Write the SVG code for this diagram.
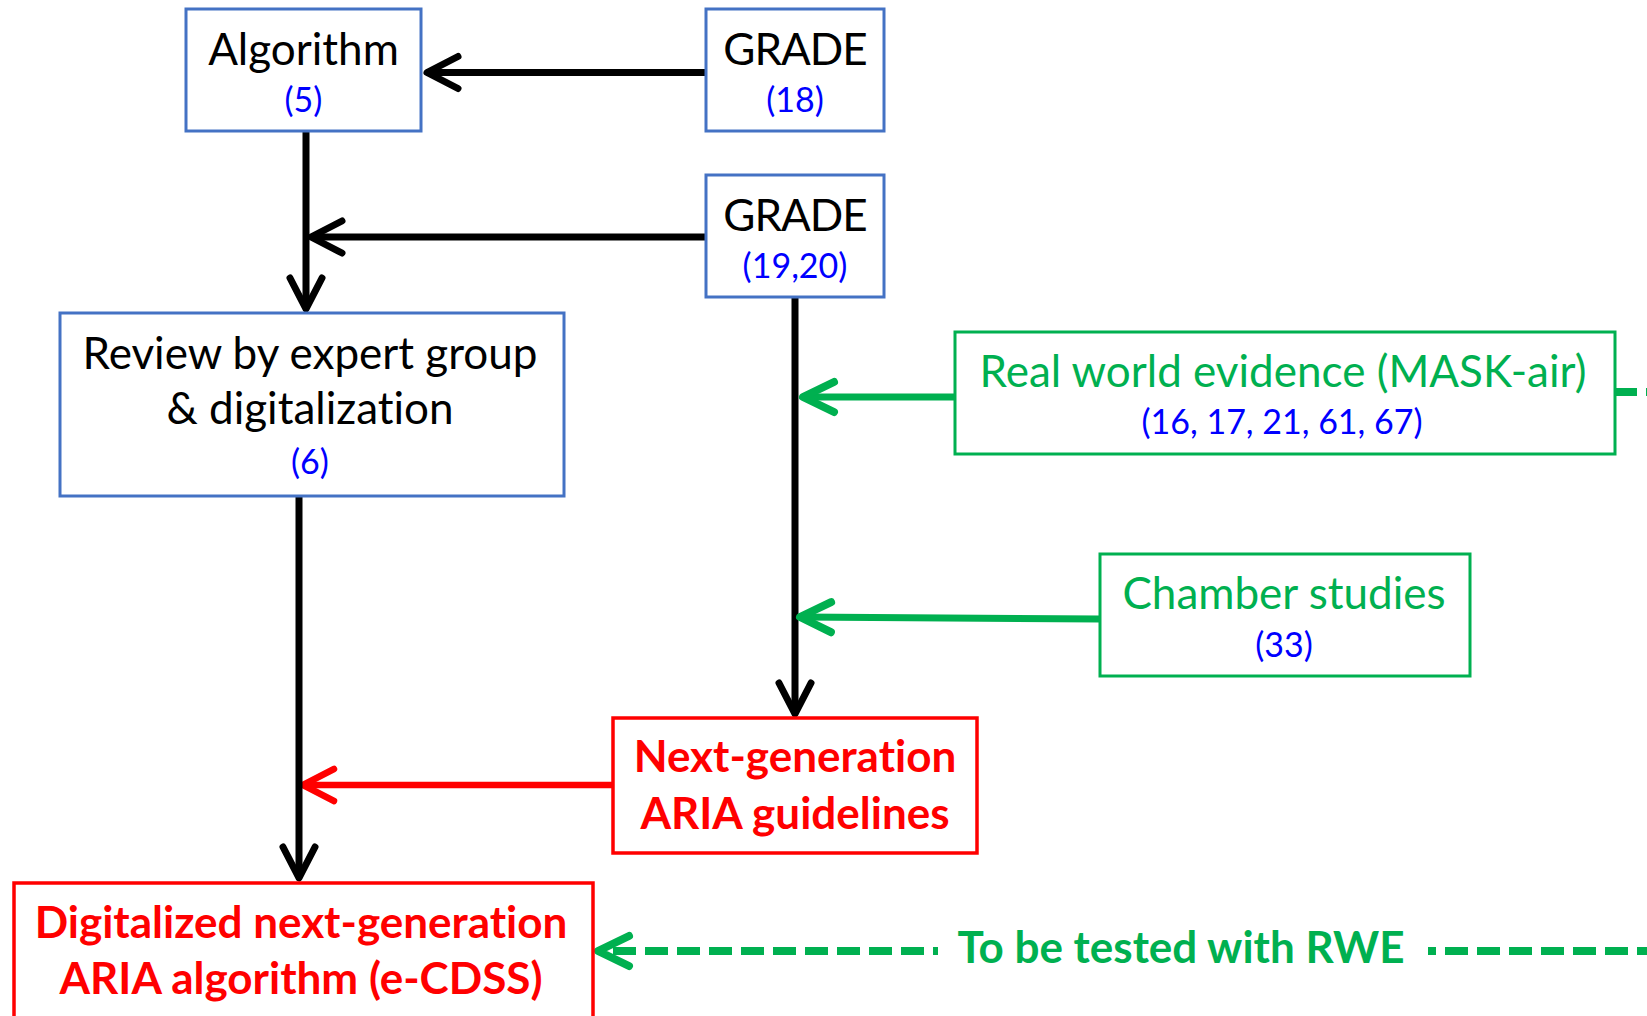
<svg xmlns="http://www.w3.org/2000/svg" width="1647" height="1016" viewBox="0 0 1647 1016">
<style>
.bb{fill:#fff;stroke:#4472C4;stroke-width:3}
.gb{fill:#fff;stroke:#00B050;stroke-width:3}
.rb{fill:#fff;stroke:#FF0000;stroke-width:3.5}
text{font-family:Lato,"Open Sans","Liberation Sans",sans-serif;text-anchor:middle;font-variant-ligatures:none;font-feature-settings:"liga" 0,"dlig" 0}
.t{font-size:44px;fill:#000}
.gr{letter-spacing:-1px}
.g{font-size:44px;fill:#00B050}
.n{font-size:34px;fill:#0000FF}
.r{font-size:44px;font-weight:bold;fill:#FF0000}
.gt{font-size:44px;font-weight:bold;fill:#00B050}
.k{stroke:#000;stroke-width:7;fill:none}
.kr{stroke:#FF0000;stroke-width:6.5;fill:none}
.kg{stroke:#00B050;stroke-width:7;fill:none}
.dg{stroke:#00B050;stroke-width:8;fill:none;stroke-dasharray:23 9}
</style>
<defs>
<marker id="ak" markerUnits="userSpaceOnUse" markerWidth="1" markerHeight="1" refX="0" refY="0" orient="auto" style="overflow:visible"><path d="M-31,-16 L0,0 L-31,16" fill="none" stroke="#000" stroke-width="7" stroke-linecap="round" stroke-linejoin="round"/></marker>
<marker id="ar" markerUnits="userSpaceOnUse" markerWidth="1" markerHeight="1" refX="0" refY="0" orient="auto" style="overflow:visible"><path d="M-31,-16 L0,0 L-31,16" fill="none" stroke="#FF0000" stroke-width="6.5" stroke-linecap="round" stroke-linejoin="round"/></marker>
<marker id="ag" markerUnits="userSpaceOnUse" markerWidth="1" markerHeight="1" refX="0" refY="0" orient="auto" style="overflow:visible"><path d="M-31,-15 L0,0 L-31,15" fill="none" stroke="#00B050" stroke-width="8" stroke-linecap="round" stroke-linejoin="round"/></marker>
</defs>
<g id="connectors">
<line class="k" x1="706" y1="72.5" x2="427" y2="72.5" marker-end="url(#ak)"/>
<line class="k" x1="306" y1="131" x2="306" y2="309" marker-end="url(#ak)"/>
<line class="k" x1="706" y1="237" x2="311" y2="237" marker-end="url(#ak)"/>
<line class="k" x1="795" y1="297" x2="795" y2="714" marker-end="url(#ak)"/>
<line class="kg" x1="955" y1="397" x2="803" y2="397" marker-end="url(#ag)"/>
<line class="kg" x1="1100" y1="619" x2="800" y2="617" marker-end="url(#ag)"/>
<line class="kr" x1="613" y1="785" x2="303" y2="785" marker-end="url(#ar)"/>
<line class="k" x1="299" y1="496" x2="299" y2="878" marker-end="url(#ak)"/>
<line class="dg" x1="938" y1="951" x2="604" y2="951" style="stroke-dashoffset:18"/>
<path d="M629,936 L598,951 L629,966" fill="none" stroke="#00B050" stroke-width="8" stroke-linecap="round" stroke-linejoin="round"/>
<line class="dg" x1="1428" y1="951" x2="1660" y2="951" style="stroke-dashoffset:15"/>
<line class="dg" x1="1615" y1="392" x2="1660" y2="392" style="stroke-dashoffset:1"/>
<text class="gt" x="1181" y="963">To be tested with RWE</text>
</g>
<g id="algorithm">
<rect class="bb" x="186" y="9" width="235" height="122"/>
<text class="t" x="303.5" y="65">Algorithm</text>
<text class="n" x="303.5" y="112">(5)</text>
</g>
<g id="grade18">
<rect class="bb" x="706" y="9" width="178" height="122"/>
<text class="t gr" x="795" y="65">GRADE</text>
<text class="n" x="795" y="112">(18)</text>
</g>
<g id="grade1920">
<rect class="bb" x="706" y="175" width="178" height="122"/>
<text class="t gr" x="795" y="231">GRADE</text>
<text class="n" x="795" y="278">(19,20)</text>
</g>
<g id="review">
<rect class="bb" x="60" y="313" width="504" height="183"/>
<text class="t" x="310" y="369">Review by expert group</text>
<text class="t" x="310" y="424">&amp; digitalization</text>
<text class="n" x="310" y="474">(6)</text>
</g>
<g id="rwe">
<rect class="gb" x="955" y="332" width="660" height="122"/>
<text class="g" x="1283" y="387">Real world evidence (MASK-air)</text>
<text class="n" x="1282" y="434">(16, 17, 21, 61, 67)</text>
</g>
<g id="chamber">
<rect class="gb" x="1100" y="554" width="370" height="122"/>
<text class="g" x="1284" y="609">Chamber studies</text>
<text class="n" x="1284" y="657">(33)</text>
</g>
<g id="nextgen">
<rect class="rb" x="613" y="718" width="364" height="135"/>
<text class="r" x="795" y="772">Next-generation</text>
<text class="r" x="795" y="829">ARIA guidelines</text>
</g>
<g id="digitalized">
<rect class="rb" x="14" y="883" width="579" height="150"/>
<text class="r" x="301" y="938">Digitalized next-generation</text>
<text class="r" x="301" y="994">ARIA algorithm (e-CDSS)</text>
</g>
</svg>
